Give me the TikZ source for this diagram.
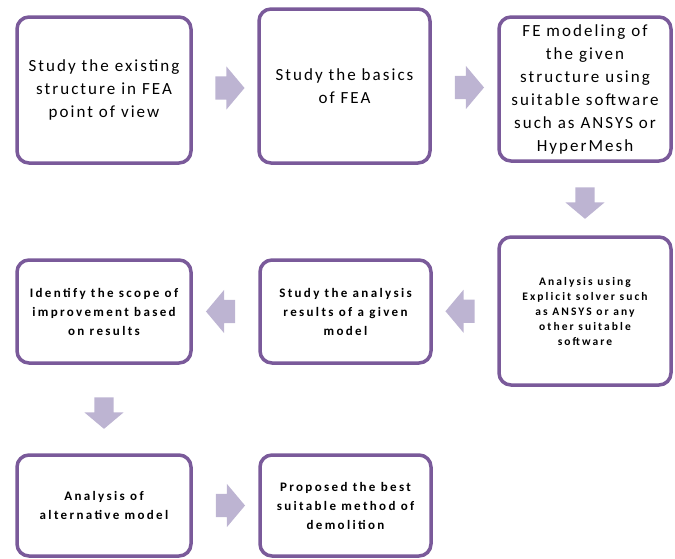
\documentclass[tikz,border=0pt]{standalone}
\usepackage{fontspec}
\setmainfont{Carlito}
\usetikzlibrary{shapes.arrows,calc}
\definecolor{Frame}{HTML}{7A5A9A}
\definecolor{Lilac}{HTML}{BDB4D2}
\tikzset{stage/.style={draw=Frame,fill=white,line width=3.5pt,rounded corners=12pt,align=center,inner sep=0pt,text=black},
  big/.style={font=\fontsize{17}{23}\selectfont\addfontfeature{LetterSpace=12}},
  small/.style={font=\fontsize{13}{19}\selectfont\bfseries\addfontfeature{LetterSpace=18}},
  tiny/.style={font=\fontsize{11.5}{15}\selectfont\bfseries\addfontfeature{LetterSpace=18}},
  fat/.style={single arrow,fill=Lilac,draw=none,inner xsep=9.5pt,inner ysep=11.5pt,single arrow head extend=10pt,single arrow head indent=0pt,single arrow tip angle=100}}
\begin{document}
\begin{tikzpicture}[x=1pt,y=-1pt]
\useasboundingbox (0,0) rectangle (675,558);
\node[stage,big,minimum width=174pt,minimum height=146pt] (b1) at (104,90) {Study the existing\\structure in FEA\\point of view};
\node[stage,big,minimum width=171pt,minimum height=154pt] (b2) at (344.5,86) {Study the basics\\of FEA};
\node[stage,big,minimum width=172pt,minimum height=144pt] (b3) at (585,89) {FE modeling of\\the given\\structure using\\suitable software\\such as ANSYS or\\HyperMesh};
\node[stage,tiny,minimum width=172pt,minimum height=148pt] (b4) at (585,311) {Analysis using\\Explicit solver such\\as ANSYS or any\\other suitable\\software};
\node[stage,small,minimum width=171pt,minimum height=103pt] (b5) at (345.5,311.5) {Study the analysis\\results of a given\\model};
\node[stage,small,minimum width=174pt,minimum height=103pt] (b6) at (104,311.5) {Identify the scope of\\improvement based\\on results};
\node[stage,small,minimum width=174pt,minimum height=101pt] (b7) at (104,505.5) {Analysis of\\alternative model};
\node[stage,small,minimum width=171pt,minimum height=101pt] (b8) at (345.5,505.5) {Proposed the best\\suitable method of\\demolition};
% block arrows between the stages
\node[fat] (a12) at ($(b1.east)!0.5!(b2.west)$) {};
\node[fat] (a23) at ($(b2.east)!0.5!(b3.west)$) {};
\node[fat,shape border rotate=270] (a34) at ($(b3.south)!0.5!(b4.north)$) {};
\node[fat,shape border rotate=180] (a45) at ($(b4.west)!0.5!(b5.east)$) {};
\node[fat,shape border rotate=180] (a56) at ($(b5.west)!0.5!(b6.east)$) {};
\node[fat,shape border rotate=270] (a67) at ($(b6.south)!0.5!(b7.north)$) {};
\node[fat] (a78) at ($(b7.east)!0.5!(b8.west)$) {};
\end{tikzpicture}
\end{document}
